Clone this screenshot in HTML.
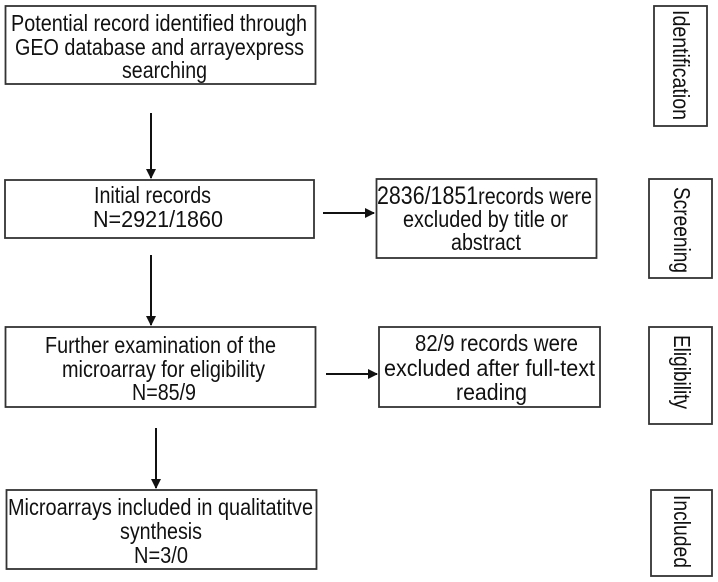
<!DOCTYPE html>
<html><head><meta charset="utf-8"><style>html,body{margin:0;padding:0;background:#fff;}svg{display:block;}</style></head>
<body>
<svg width="718" height="582" viewBox="0 0 718 582" xmlns="http://www.w3.org/2000/svg">
<defs><marker id="a" markerWidth="10" markerHeight="10" refX="9" refY="5" orient="auto" markerUnits="userSpaceOnUse"><path d="M0,0 L10,5 L0,10 z" fill="#111"/></marker></defs>
<g fill="#fff" stroke="#333" stroke-width="1.8">
<rect x="5.5" y="6" width="310" height="78"/>
<rect x="5" y="180" width="309" height="58"/>
<rect x="376.5" y="179" width="220" height="79"/>
<rect x="5.5" y="327" width="310" height="80"/>
<rect x="379" y="327" width="221" height="80"/>
<rect x="6.5" y="490" width="310" height="79"/>
<rect x="654" y="6" width="53" height="120"/>
<rect x="649" y="179" width="63" height="99"/>
<rect x="649" y="327" width="63" height="97"/>
<rect x="651" y="490" width="61" height="86"/>
</g>
<g stroke="#111" stroke-width="2" marker-end="url(#a)">
<line x1="151" y1="113" x2="151" y2="178"/>
<line x1="151" y1="255" x2="151" y2="325"/>
<line x1="156" y1="428" x2="156" y2="488"/>
<line x1="323" y1="213" x2="374" y2="213"/>
<line x1="326" y1="374" x2="377" y2="374"/>
</g>
<g font-family="Liberation Sans, sans-serif" font-size="23" fill="#111">
<text x="11" y="31" textLength="296" lengthAdjust="spacingAndGlyphs">Potential record identified through</text>
<text x="15" y="55" textLength="289" lengthAdjust="spacingAndGlyphs">GEO database and arrayexpress</text>
<text x="122" y="78" textLength="85" lengthAdjust="spacingAndGlyphs">searching</text>
<text x="94" y="203" textLength="117" lengthAdjust="spacingAndGlyphs">Initial records</text>
<text x="93" y="227" textLength="130" lengthAdjust="spacingAndGlyphs">N=2921/1860</text>
<text x="377" y="204" textLength="215" lengthAdjust="spacingAndGlyphs"><tspan font-size="25">2836/1851</tspan>records were</text>
<text x="403" y="227" textLength="165" lengthAdjust="spacingAndGlyphs">excluded by title or</text>
<text x="451" y="250" textLength="70" lengthAdjust="spacingAndGlyphs">abstract</text>
<text x="45" y="353" textLength="231" lengthAdjust="spacingAndGlyphs">Further examination of the</text>
<text x="62" y="377" textLength="203" lengthAdjust="spacingAndGlyphs">microarray for eligibility</text>
<text x="132" y="400" textLength="64" lengthAdjust="spacingAndGlyphs">N=85/9</text>
<text x="415" y="351" textLength="163" lengthAdjust="spacingAndGlyphs">82/9 records were</text>
<text x="384" y="376" textLength="211" lengthAdjust="spacingAndGlyphs">excluded after full-text</text>
<text x="456" y="400" textLength="71" lengthAdjust="spacingAndGlyphs">reading</text>
<text x="8" y="515" textLength="305" lengthAdjust="spacingAndGlyphs">Microarrays included in qualitatitve</text>
<text x="120" y="539" textLength="82" lengthAdjust="spacingAndGlyphs">synthesis</text>
<text x="134" y="563" textLength="54" lengthAdjust="spacingAndGlyphs">N=3/0</text>
<text transform="translate(673,10) rotate(90)" textLength="110" lengthAdjust="spacingAndGlyphs">Identification</text>
<text transform="translate(674,187) rotate(90)" textLength="86" lengthAdjust="spacingAndGlyphs">Screening</text>
<text transform="translate(674,335) rotate(90)" textLength="74" lengthAdjust="spacingAndGlyphs">Eligibility</text>
<text transform="translate(674,495) rotate(90)" textLength="73" lengthAdjust="spacingAndGlyphs">Included</text>
</g>
</svg>
</body></html>
